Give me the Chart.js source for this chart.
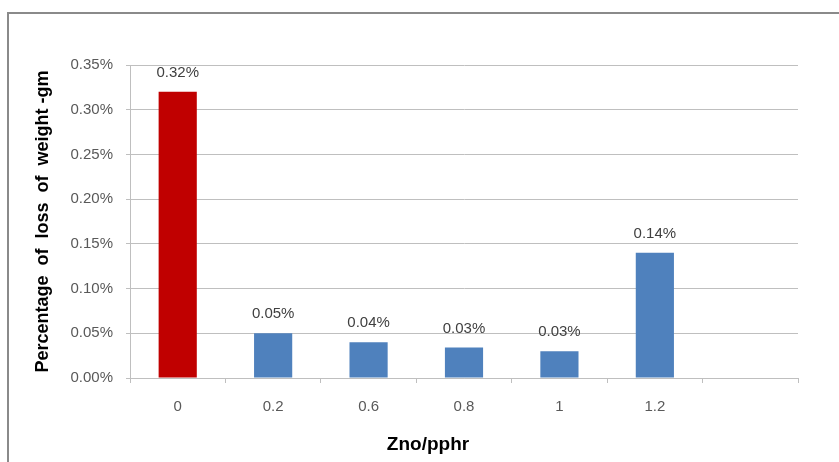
<!DOCTYPE html>
<html>
<head>
<meta charset="utf-8">
<script src="https://cdn.jsdelivr.net/npm/chart.js@4"></script>
<style>
  html, body { margin: 0; padding: 0; background: #fff; }
  #wrap { position: relative; width: 839px; height: 462px; overflow: hidden; }
  #frame { position: absolute; left: 7px; top: 12px; width: 900px; height: 500px; border: 2px solid #8a8a8a; box-sizing: border-box; }
  canvas { position: absolute; left: 0; top: 0; }
</style>
</head>
<body>
<div id="wrap">
  <div id="frame"></div>
  <canvas id="lossChart" width="839" height="462"></canvas>
</div>
<script>
// chart data
const categories = ["0", "0.2", "0.6", "0.8", "1", "1.2", ""];
const lossValues = [0.32, 0.05, 0.04, 0.034, 0.03, 0.14, null];
const barColors = ["#C00000", "#4F81BD", "#4F81BD", "#4F81BD", "#4F81BD", "#4F81BD", "#4F81BD"];
const yTicks = [0, 0.05, 0.10, 0.15, 0.20, 0.25, 0.30, 0.35];

const gridColor = "#BFBFBF";
const fontName = "'Liberation Sans', Arial, sans-serif";

// value labels above the bars + x title
const extras = {
    id: "extras",
    afterDatasetsDraw(chart) {
        const ctx = chart.ctx;
        const meta = chart.getDatasetMeta(0);
        ctx.save();
        ctx.font = "15px " + fontName;
        ctx.fillStyle = "#404040";
        ctx.textAlign = "center";
        ctx.textBaseline = "middle";
        meta.data.forEach((bar, i) => {
            const v = lossValues[i];
            if (v === null) return;
            ctx.fillText(v.toFixed(2) + "%", bar.x, bar.y - 19);
        });
        ctx.font = "bold 19px " + fontName;
        ctx.fillStyle = "#000";
        ctx.fillText("Zno/pphr", 428, 445);
        ctx.restore();
    }
};

new Chart(document.getElementById("lossChart"), {
    type: "bar",
    data: {
        labels: categories,
        datasets: [{
            data: lossValues,
            backgroundColor: barColors,
            categoryPercentage: 1,
            barPercentage: 0.4
        }]
    },
    options: {
        responsive: false,
        animation: false,
        layout: { padding: { top: 65, right: 41, left: 0, bottom: 0 } },
        plugins: {
            legend: { display: false },
            tooltip: { enabled: false }
        },
        scales: {
            x: {
                offset: true,
                grid: { display: true, drawOnChartArea: false, color: gridColor, tickLength: 5, offset: true },
                border: { color: gridColor },
                ticks: { color: "#595959", font: { family: fontName, size: 15 }, padding: 15 },
                afterFit(scale) { scale.height = 84; }
            },
            y: {
                min: 0,
                max: 0.35,
                afterBuildTicks(scale) { scale.ticks = yTicks.map(v => ({ value: v })); },
                grid: { color: gridColor, tickLength: 4 },
                border: { color: gridColor },
                ticks: {
                    color: "#595959",
                    font: { family: fontName, size: 15 },
                    padding: 13,
                    callback: v => v.toFixed(2) + "%"
                },
                title: {
                    display: true,
                    text: "Percentage  of  loss  of  weight -gm",
                    color: "#000",
                    font: { family: fontName, size: 18, weight: "bold" },
                    padding: { top: 32, bottom: 0 }
                },
                afterFit(scale) { scale.width = 130; }
            }
        }
    },
    plugins: [extras]
});
</script>
</body>
</html>
